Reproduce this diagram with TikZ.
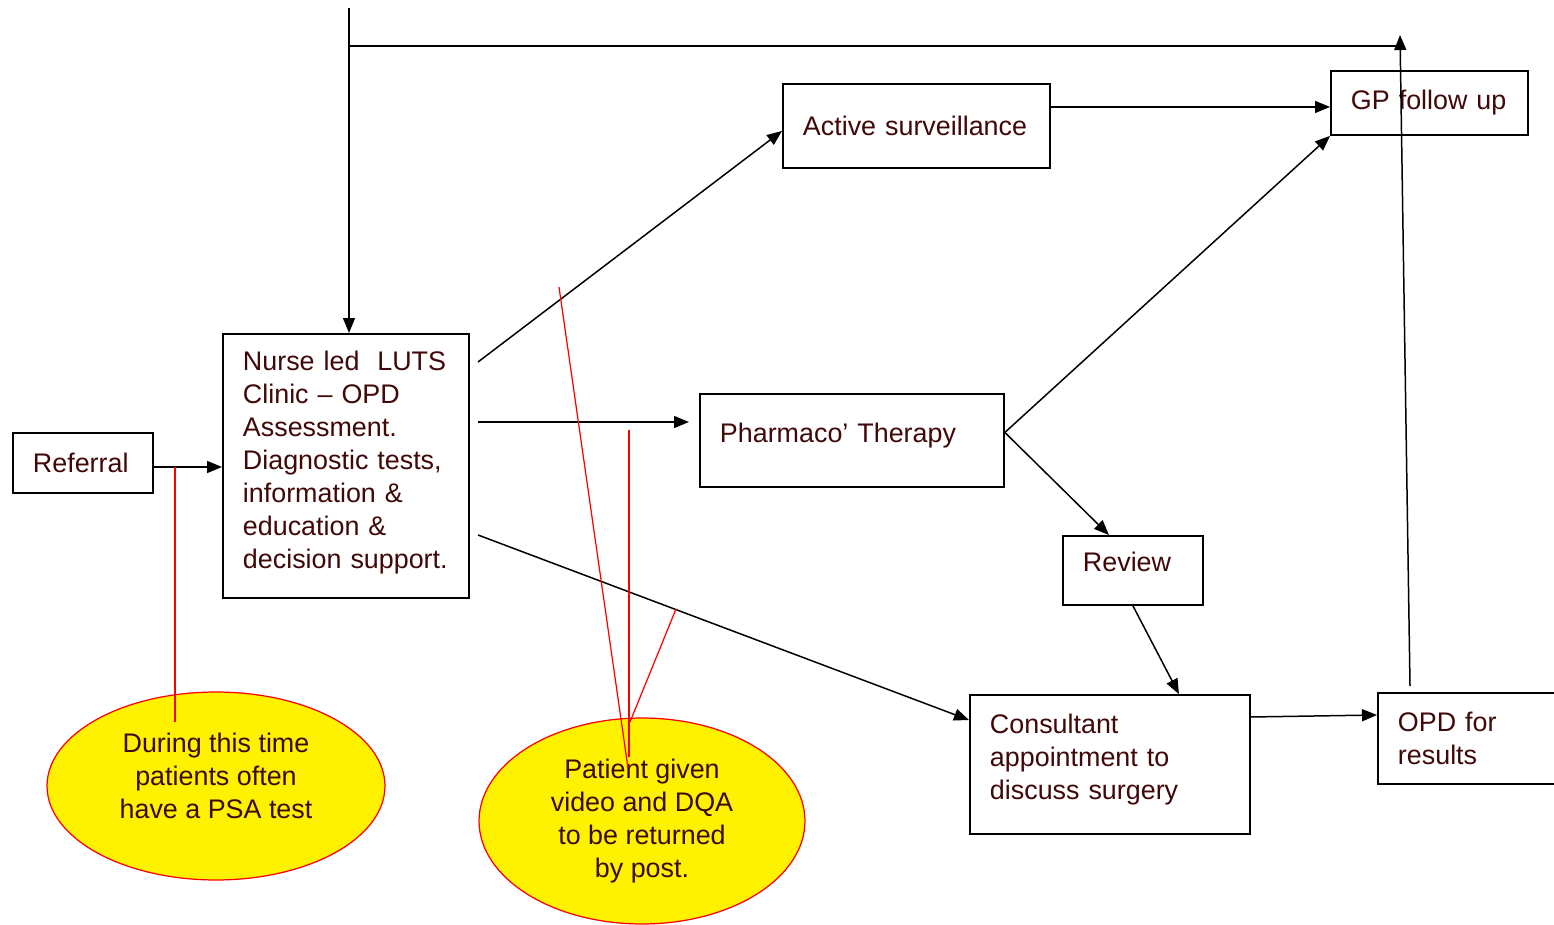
\documentclass[tikz,border=0pt]{standalone}
\usepackage{fontspec}
\setmainfont{Liberation Sans}
\usetikzlibrary{shapes,arrows.meta,positioning}
\definecolor{txtred}{RGB}{64,8,8}
\tikzstyle{box} = [draw, rectangle, line width=1.1pt, align=left, anchor=north west,
    inner xsep=0.4cm, inner ysep=0pt, text=txtred, font=\fontsize{15.3}{18.8}\selectfont]
\tikzstyle{bubble} = [draw=red, ellipse, fill=yellow, line width=0.7pt, align=center,
    inner sep=0pt, text=txtred, font=\fontsize{15.3}{18.8}\selectfont]
\tikzstyle{arr} = [-{Triangle[length=0.3cm,width=0.24cm]}, line width=0.85pt]
\tikzstyle{call} = [red, line width=0.7pt]

\begin{document}
\begin{tikzpicture}[x=0.02cm, y=-0.02cm]
  \useasboundingbox (0,0) rectangle (1554,925);
  \node [box, text width=2cm, minimum height=1.2cm] (ref) at (12,432) {Referral};
  \node [box, text width=4.12cm, minimum height=5.28cm, text depth=4.22cm] (nurse) at (222,333) {Nurse led\ \ LUTS\\Clinic -- OPD\\Assessment.\\Diagnostic tests,\\information \&\\education \&\\decision support.};
  \node [box, text width=4.54cm, minimum height=1.68cm] (act) at (782,83) {Active surveillance};
  \node [box, text width=3.14cm, minimum height=1.28cm] (gp) at (1330,70) {GP follow up};
  \node [box, text width=5.28cm, minimum height=1.86cm, text depth=0.3cm] (pharma) at (699,393) {Pharmaco’ Therapy};
  \node [box, text width=2cm, minimum height=1.38cm, text depth=0.34cm] (review) at (1062,535) {Review};
  \node [box, text width=4.8cm, minimum height=2.78cm, text depth=1.63cm] (cons) at (969,694) {Consultant\\appointment to\\discuss surgery};
  \node [box, text width=3.8cm, minimum height=1.82cm] (opd) at (1377,692) {OPD for\\results};
  \node [bubble, minimum width=6.76cm, minimum height=3.76cm, text depth=0.42cm] (psa) at (216,786) {During this time\\patients often\\have a PSA test};
  \node [bubble, minimum width=6.52cm, minimum height=4.12cm] (dqa) at (642,821) {Patient given\\video and DQA\\to be returned\\by post.};

  \coordinate (top1) at (349,8);
  \coordinate (hz) at (349,46);
  \coordinate (top2) at (1400,35);
  \coordinate (r1) at (175,467);
  \coordinate (n1) at (478,362);
  \coordinate (n2) at (478,422);
  \coordinate (n3) at (478,535);

  \draw [arr] (top1) -- (top1 |- nurse.north);
  \draw [line width=0.85pt] (hz) -- (hz -| top2);
  \draw [arr] (ref.east |- r1) -- (nurse.west |- r1);
  \draw [arr] (n1) -- ([yshift=-0.1cm]act.west);
  \draw [arr] (n2) -- ([xshift=-0.2cm]pharma.west |- n2);
  \draw [arr] (n3) -- ([yshift=-0.52cm]cons.north west);
  \draw [arr] ([yshift=-0.08cm]gp.west -| act.east) -- ([yshift=-0.08cm]gp.west);
  \draw [arr] ([yshift=0.16cm]pharma.east) -- (gp.south west);
  \draw [arr] ([yshift=0.16cm]pharma.east) -- ([xshift=-0.48cm]review.north);
  \draw [arr] (review.south) -- ([xshift=1.38cm]cons.north);
  \draw [arr] ([yshift=-0.46cm]cons.north east) -- ([yshift=-0.46cm]opd.north west);
  \draw [arr] ([shift={(33,-6)}]opd.north west) -- (top2);

  \coordinate (e1a) at (175,722);
  \coordinate (p1) at (559,287);
  \coordinate (p2) at (628,768);
  \coordinate (p3) at (629,430);
  \coordinate (p4) at (629,757);
  \coordinate (p5) at (676,609);
  \coordinate (p6) at (630,722);
  \draw [call] (r1) -- (e1a);
  \draw [call] (p1) -- (p2);
  \draw [call] (p3) -- (p4);
  \draw [call] (p5) -- (p6);
\end{tikzpicture}
\end{document}
